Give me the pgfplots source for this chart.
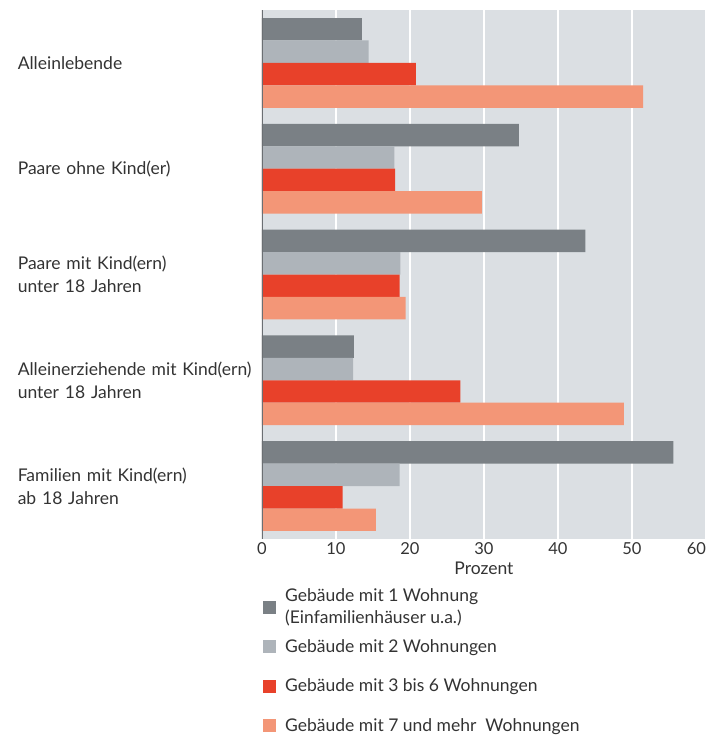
\documentclass[border=0pt]{standalone}
\usepackage{pgfplots}
\pgfplotsset{compat=1.18}
\usepackage{fontspec}
\setmainfont{Lato}
\definecolor{bg}{HTML}{DBDFE3}
\definecolor{cA}{HTML}{7A8085}
\definecolor{cB}{HTML}{AEB4BA}
\definecolor{cC}{HTML}{E8412A}
\definecolor{cD}{HTML}{F39677}
\definecolor{axc}{HTML}{6B6F73}
\definecolor{txt}{HTML}{333333}
\pgfplotsset{sq/.style={fill=#1, draw=none,
  legend image code/.code={\fill[#1] (0pt,-6.5pt) rectangle (13pt,6.5pt);}}}
\begin{document}
\begin{tikzpicture}
\useasboundingbox (-262pt,-200pt) rectangle (445pt,539pt);
\begin{axis}[
  at={(0,0)}, anchor=south west, scale only axis,
  width=444pt, height=529pt,
  xbar=0pt, bar width=0.212,
  xmin=0, xmax=60, ymin=-0.5, ymax=4.5, y dir=reverse,
  ytick={0,1,2,3,4},
  yticklabels={Alleinlebende, Paare ohne Kind(er), {Paare mit Kind(ern)\\unter 18 Jahren}, {Alleinerziehende mit Kind(ern)\\unter 18 Jahren}, {Familien mit Kind(ern)\\ab 18 Jahren}},
  yticklabel style={anchor=east, align=left, text width=244pt, inner sep=0pt, font=\fontsize{17.5}{23}\selectfont, text=txt},
  xtick={0,10,...,60},
  xticklabels={0,10,20,30,40,50,\makebox[0pt][r]{60}},
  xticklabel style={font=\fontsize{16.5}{19}\selectfont, text=txt, inner sep=0pt, yshift=-3pt},
  xlabel={Prozent},
  xlabel style={font=\fontsize{17.5}{20}\selectfont, text=txt, inner sep=0pt, yshift=-7pt},
  axis line style={draw=none},
  major tick length=0pt,
  axis background/.style={fill=bg},
  xmajorgrids, major grid style={white, line width=2.2pt},
  legend style={draw=none, fill=none, at={(0,-0.091)}, anchor=north west, xshift=1pt,
    inner sep=0pt, column sep=9pt, row sep=0pt,
    font=\fontsize{17.5}{22}\selectfont, text=txt,
    nodes={inner xsep=0pt, inner ysep=0pt, minimum height=39.5pt, align=left}},
  legend cell align=left,
]
\addplot[sq=cA] coordinates {(13.5,0) (34.7,1) (43.7,2) (12.4,3) (55.6,4)};
\addplot[sq=cB] coordinates {(14.4,0) (17.9,1) (18.7,2) (12.3,3) (18.6,4)};
\addplot[sq=cC] coordinates {(20.8,0) (18.0,1) (18.6,2) (26.8,3) (10.9,4)};
\addplot[sq=cD] coordinates {(51.5,0) (29.7,1) (19.4,2) (48.9,3) (15.4,4)};
\addlegendentry{Gebäude mit 1 Wohnung\\(Einfamilienhäuser u.a.)}
\addlegendentry{Gebäude mit 2 Wohnungen}
\addlegendentry{Gebäude mit 3 bis 6 Wohnungen}
\addlegendentry{Gebäude mit 7 und mehr\ \ Wohnungen}
\draw[axc, line width=3pt] (axis cs:0,-0.5) -- (axis cs:0,4.5);
\end{axis}
\end{tikzpicture}
\end{document}
